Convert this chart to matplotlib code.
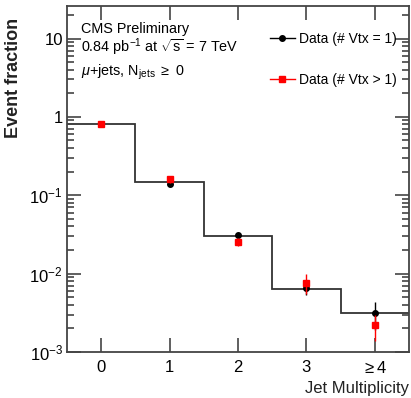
import numpy as np
import matplotlib
matplotlib.use("Agg")
import matplotlib.pyplot as plt
from matplotlib.lines import Line2D
from matplotlib.ticker import FixedLocator, FuncFormatter, LogLocator, NullFormatter

plt.rcParams['font.family'] = ['Liberation Sans', 'DejaVu Sans']
plt.rcParams['mathtext.fontset'] = 'custom'
plt.rcParams['mathtext.rm'] = 'Liberation Sans'
plt.rcParams['mathtext.it'] = 'Liberation Sans:italic'

categories = ["0", "1", "2", "3", r"$\geq$4"]
hist_frac = [0.80, 0.147, 0.030, 0.0064, 0.0031]

vtx1 = [0.81, 0.141, 0.031, 0.0065, 0.0031]
vtx1_err = [0.02, 0.006, 0.002, 0.0012, 0.0012]

vtxn = [0.80, 0.160, 0.0255, 0.0077, 0.0022]
vtxn_err = [0.05, 0.015, 0.003, 0.0022, 0.0008]

x = np.arange(len(categories))

fig = plt.figure(figsize=(4.11, 3.98), dpi=100)
ax = fig.add_axes([67/411, 1 - 352/398, (409-67)/411, (352-6)/398])

edges = np.arange(len(categories) + 1) - 0.5
ax.stairs(hist_frac, edges, color='#333333', lw=1.3, baseline=None)

ax.errorbar(x, vtx1, yerr=vtx1_err, fmt='o', color='black', ms=4,
            elinewidth=1.0, capsize=0, zorder=3)
ax.errorbar(x, vtxn, yerr=vtxn_err, fmt='s', color='red', ms=4,
            elinewidth=1.0, capsize=0, zorder=4)

ax.set_yscale('log')
ax.set_xlim(-0.5, 4.5)
ax.set_ylim(1e-3, 26)

ax.xaxis.set_major_locator(FixedLocator(x))
ax.set_xticklabels(categories, fontsize=12)

def ylab(v, pos):
    e = int(round(np.log10(v)))
    if e == 0:
        return "1"
    if e == 1:
        return "10"
    return r"$10^{%d}$" % e

ax.yaxis.set_major_locator(LogLocator(base=10, numticks=10))
ax.yaxis.set_major_formatter(FuncFormatter(ylab))
ax.yaxis.set_minor_locator(LogLocator(base=10, subs=np.arange(2, 10), numticks=20))
ax.yaxis.set_minor_formatter(NullFormatter())

ax.tick_params(axis='both', which='both', direction='in', top=True, right=True,
               color='#444444', width=1.2)
ax.tick_params(axis='y', which='major', length=10, labelsize=12, pad=3)
ax.tick_params(axis='y', which='minor', length=5)
ax.tick_params(axis='x', which='major', length=10, pad=6)
for sp in ax.spines.values():
    sp.set_color('#444444')
    sp.set_linewidth(1.3)

fig.text(14/411, 1 - 78/398, 'Event fraction', rotation=90, ha='center', va='center',
         fontsize=13, fontweight='bold', color='#222222')
fig.text(409/411, 1 - 388/398, 'Jet Multiplicity', ha='right', va='center',
         fontsize=12, color='#222222')

ax.text(0.04, 0.922, 'CMS Preliminary', transform=ax.transAxes, fontsize=10.4)
ax.text(0.04, 0.865, r'0.84 pb$^{-1}$ at $\sqrt{\rm s}$ = 7 TeV', transform=ax.transAxes, fontsize=10.4)
ax.text(0.04, 0.80, r'$\mu$+jets, N$_{\rm jets}$ $\geq$ 0', transform=ax.transAxes, fontsize=10.4)

handles = [
    Line2D([], [], color='black', marker='o', ms=4, lw=1.0),
    Line2D([], [], color='red', marker='s', ms=4, lw=1.0),
]
ax.legend(handles, ['Data (# Vtx = 1)', 'Data (# Vtx > 1)'], loc='upper right',
          bbox_to_anchor=(1.0, 0.96), frameon=False, fontsize=10,
          handlelength=1.8, handletextpad=0.3, labelspacing=1.9)

fig.savefig('out.png', dpi=100)
